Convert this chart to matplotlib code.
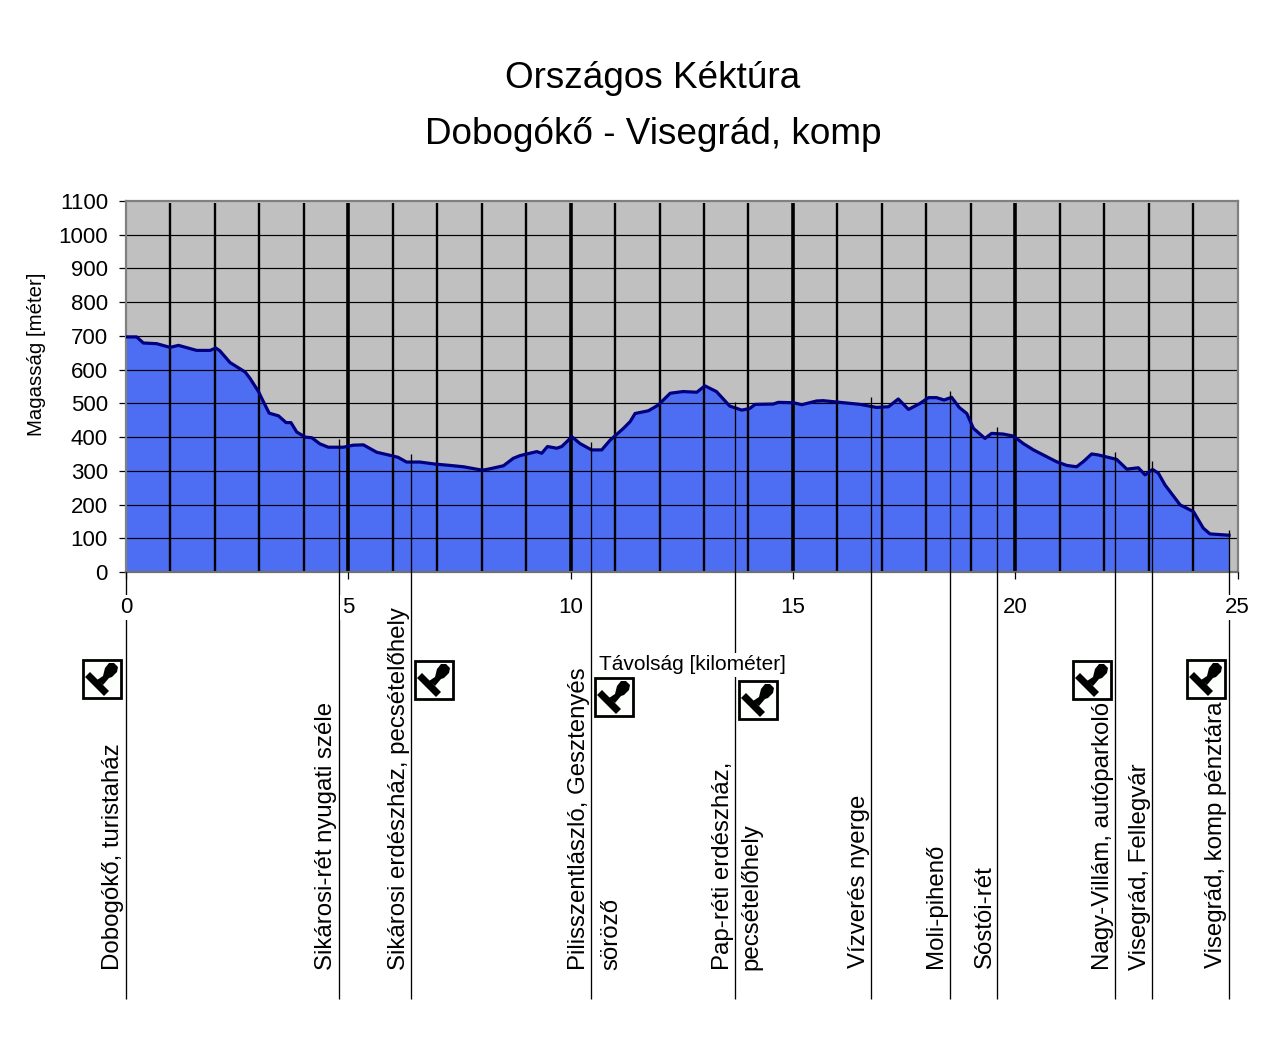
import matplotlib
matplotlib.use("Agg")
import matplotlib.pyplot as plt
from matplotlib.patches import Rectangle, Polygon
from matplotlib.transforms import Affine2D

plt.rcParams['font.family'] = ['Liberation Sans', 'DejaVu Sans']

DIST = [0, 0.24, 0.39, 0.69, 0.99, 1.18, 1.59, 1.89, 2.02, 2.11, 2.34, 2.68, 2.79, 2.98, 3.09, 3.22,
        3.43, 3.60, 3.71, 3.84, 4.03, 4.18, 4.36, 4.55, 4.89, 5.11, 5.34, 5.64, 5.97, 6.12, 6.31, 6.61,
        6.95, 7.29, 7.59, 8.01, 8.15, 8.49, 8.71, 8.86, 9.24, 9.35, 9.48, 9.69, 9.80, 10.03, 10.21,
        10.47, 10.70, 10.89, 11.19, 11.34, 11.45, 11.75, 11.97, 12.24, 12.53, 12.84, 13.02, 13.28,
        13.58, 13.85, 14.03, 14.15, 14.56, 14.67, 15.01, 15.20, 15.53, 15.68, 16.06, 16.51, 16.88,
        17.15, 17.37, 17.60, 17.86, 18.05, 18.23, 18.40, 18.57, 18.74, 18.91, 19.06, 19.32, 19.47,
        19.73, 19.96, 20.18, 20.41, 20.93, 21.16, 21.38, 21.53, 21.72, 21.87, 22.28, 22.51, 22.77,
        22.92, 23.09, 23.22, 23.37, 23.71, 24.01, 24.23, 24.38, 24.81]
ELEV = [697, 697, 679, 677, 666, 672, 657, 657, 664, 656, 621, 593, 574, 535, 505, 471,
        463, 443, 443, 415, 400, 398, 380, 370, 370, 376, 377, 355, 345, 340, 326, 326,
        320, 316, 312, 302, 305, 315, 337, 345, 357, 352, 372, 367, 372, 401, 381,
        362, 362, 391, 426, 446, 470, 478, 495, 530, 535, 533, 552, 535,
        492, 480, 485, 497, 498, 503, 502, 496, 507, 508, 503, 497, 488,
        490, 513, 482, 500, 517, 517, 510, 518, 488, 470, 426, 396, 411,
        409, 403, 381, 362, 327, 316, 312, 327, 350, 347, 334, 305, 309,
        288, 304, 293, 258, 199, 179, 130, 113, 109]

STATIONS = [0, 4.79, 6.41, 10.46, 13.70, 16.76, 18.53, 19.59, 22.25, 23.08, 24.81]
STATION_ELEV = [0, 395, 350, 385, 505, 520, 537, 430, 355, 330, 125]
STATION_LABELS = ["Dobogókő, turistaház", "Sikárosi-rét nyugati széle", "Sikárosi erdészház, pecsételőhely",
                  "Pilisszentlászló, Gesztenyés\n\nsöröző", "Pap-réti erdészház,\npecsételőhely",
                  "Vízverés nyerge", "Moli-pihenő", "Sóstói-rét", "Nagy-Villám, autóparkoló",
                  "Visegrád, Fellegvár", "Visegrád, komp pénztára"]
STAMP_PIXELS = [(82, 659), (414, 660), (594, 677), (738, 680), (1072, 660), (1186, 659)]

W, H = 1280, 1050
fig = plt.figure(figsize=(W / 100, H / 100), dpi=100)
L, R, T, B = 126, 1237.5, 201, 572
ax = fig.add_axes([L / W, 1 - B / H, (R - L) / W, (B - T) / H])
ax.set_facecolor('#c0c0c0')
ax.set_xlim(0, 25)
ax.set_ylim(0, 1100)

ax.fill_between(DIST, ELEV, 0, color='#4d6df3', lw=0, zorder=1.5)
ax.set_yticks(range(0, 1101, 100))
ax.set_xticks(range(0, 26, 5))
for v in range(100, 1100, 100):
    ax.axhline(v, color='black', lw=0.85, zorder=2)
for k in range(1, 25):
    ax.plot([k, k], [0, 1093], color='black', lw=2.6 if k % 5 == 0 else 1.7, zorder=2, solid_capstyle='butt')
ax.plot(DIST, ELEV, color='#000080', lw=2.3, zorder=3, solid_joinstyle='round')

for s in ax.spines.values():
    s.set_color('#808080')
    s.set_linewidth(1.6)
ax.spines['bottom'].set_color('#707070')
ax.tick_params(axis='y', length=5, width=0.9, color='black', labelsize=16, pad=8)
ax.tick_params(axis='x', length=5, width=0.9, color='black', labelsize=16, pad=13)
for t in ax.get_xticklabels():
    t.set_bbox(dict(facecolor='white', edgecolor='none', pad=1.5))
ax.xaxis.set_zorder(5)

fig.text(653 / W, 1 - 79 / H, "Országos Kéktúra", ha='center', va='center', fontsize=26.6)
fig.text(653 / W, 1 - 134 / H, "Dobogókő - Visegrád, komp", ha='center', va='center', fontsize=26.6)
fig.text(37 / W, 1 - 354 / H, "Magasság [méter]", rotation=90, ha='center', va='center', fontsize=14.7)

# station lines in data x, running from the profile down to the foot of the figure
line_tr = ax.get_xaxis_transform()
y_foot = (B - 999) / (B - T)
for d, top in zip(STATIONS, STATION_ELEV):
    ax.plot([d, d], [top / 1100, y_foot], transform=line_tr, color='black', lw=0.95, clip_on=False, zorder=4,
            solid_capstyle='butt')

fig.text(692.5 / W, 1 - 665 / H, "Távolság [kilométer]", ha='center', va='center', fontsize=15,
         bbox=dict(facecolor='white', edgecolor='none', pad=1.5), zorder=6)

# station labels, bottom-anchored beside their lines
label_px = [113, 326, 399, 579, 723, 859, 936, 985, 1103, 1140, 1216]
label_bottom = [970, 970, 970, 970, 970, 968, 968, 968, 970, 970, 968]
for lab, x, b in zip(STATION_LABELS, label_px, label_bottom):
    lines = lab.split("\n")
    fig.text(x / W, 1 - b / H, lines[0], rotation=90, ha='center', va='bottom', fontsize=17.3)
    if len(lines) > 1:
        xx = x + (32 if len(lines) == 3 else 28)
        fig.text(xx / W, 1 - b / H, lines[-1], rotation=90, ha='center', va='bottom', fontsize=17.3)

# stamp icons drawn in pixel coordinates
px = Affine2D().scale(1, -1).translate(0, H)
def stamp(x, y):
    fig.add_artist(Rectangle((x + 1, y + 1), 38, 38, transform=px, fc='#fcfffc', ec='black', lw=2.0, zorder=7))
    fig.add_artist(Polygon([(x + 3, y + 18), (x + 8, y + 13), (x + 27, y + 32), (x + 22, y + 37)],
                           transform=px, fc='black', ec='none', zorder=8))
    fig.add_artist(Polygon([(x + 15, y + 21), (x + 21, y + 17), (x + 23, y + 9), (x + 27, y + 4), (x + 32, y + 4),
                            (x + 36, y + 8), (x + 35, y + 13), (x + 30, y + 18), (x + 27, y + 19), (x + 21, y + 26)],
                           transform=px, fc='black', ec='none', zorder=8))
for (sx, sy) in STAMP_PIXELS:
    stamp(sx, sy)

fig.savefig("out.png", dpi=100, facecolor='white')
